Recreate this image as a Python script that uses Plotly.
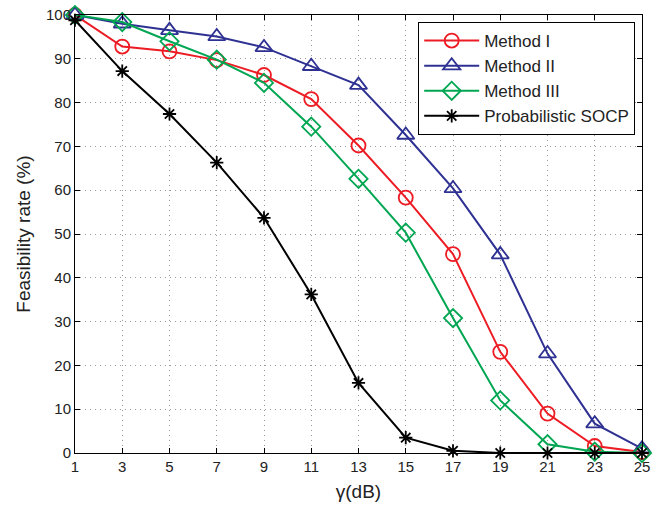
import plotly.graph_objects as go

gamma = [1, 3, 5, 7, 9, 11, 13, 15, 17, 19, 21, 23, 25]
method1 = [100, 92.8, 91.7, 89.7, 86.3, 80.8, 70.2, 58.3, 45.4, 23.1, 9.0, 1.6, 0.2]
method2 = [100, 98.0, 96.5, 95.1, 92.6, 88.3, 84.0, 72.6, 60.4, 45.3, 22.7, 6.7, 1.0]
method3 = [100, 98.4, 94.0, 89.8, 84.5, 74.5, 62.6, 50.3, 30.8, 12.0, 2.0, 0.3, 0.0]
socp = [98.8, 87.2, 77.4, 66.3, 53.7, 36.2, 16.0, 3.5, 0.5, 0.0, 0.0, 0.0, 0.0]

series = [
    ("Method I", method1, "#ed1c24", "circle-open", 14),
    ("Method II", method2, "#2e3192", "triangle-up-open", 15),
    ("Method III", method3, "#00a651", "diamond-open", 14),
    ("Probabilistic SOCP", socp, "#000000", "asterisk-open", 11),
]

FONT = "Liberation Sans, Arial, sans-serif"
TXT = "#222222"

fig = go.Figure()
for name, vals, color, sym, size in series:
    fig.add_trace(go.Scatter(
        x=gamma, y=vals, name=name, mode="lines+markers",
        line=dict(color=color, width=2),
        marker=dict(symbol=sym, size=size, color=color,
                    line=dict(color=color, width=1.8)),
        cliponaxis=False,
    ))

axis_common = dict(
    showline=True, linecolor="black", linewidth=1, mirror="ticks",
    ticks="inside", ticklen=5, tickcolor="black",
    showgrid=True, gridcolor="#9a9a9a", griddash="1px,4px", gridwidth=1.2,
    zeroline=False, automargin=False,
    tickfont=dict(family=FONT, size=15, color=TXT),
)

fig.update_xaxes(range=[1, 25], tickvals=gamma, ticktext=[str(g) for g in gamma],
                 title=dict(text="γ(dB)", font=dict(family=FONT, size=19, color=TXT), standoff=10),
                 **axis_common)
fig.update_yaxes(range=[0, 100], tickvals=list(range(0, 101, 10)),
                 title=dict(text="Feasibility rate (%)", font=dict(family=FONT, size=19, color=TXT), standoff=10),
                 **axis_common)

fig.update_layout(
    width=662, height=508,
    margin=dict(l=75, r=20, t=15, b=55),
    paper_bgcolor="white", plot_bgcolor="white",
    legend=dict(x=0.988, y=0.984, xanchor="right", yanchor="top",
                bgcolor="white", bordercolor="black", borderwidth=1,
                font=dict(family=FONT, size=17, color=TXT),
                tracegroupgap=0, itemwidth=55),
    showlegend=True,
)

fig.write_html("out.html", config={"displayModeBar": False},
               post_script="document.body.style.margin='0';document.body.style.overflow='hidden';")
